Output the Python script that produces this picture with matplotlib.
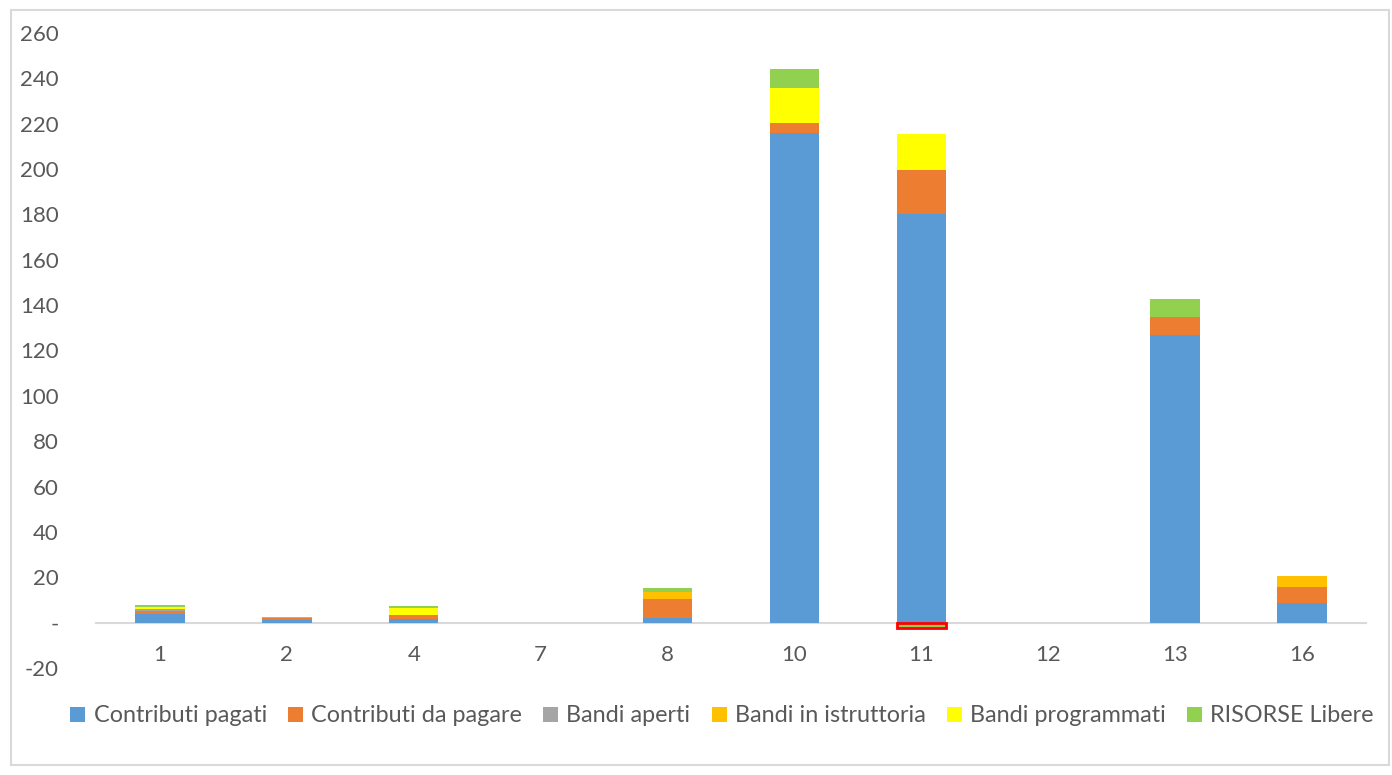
import matplotlib
matplotlib.use("Agg")
import matplotlib.pyplot as plt
from matplotlib.patches import Rectangle
from matplotlib.ticker import FuncFormatter, MultipleLocator
import numpy as np

categories = ['1', '2', '4', '7', '8', '10', '11', '12', '13', '16']
contributi_pagati = [3.7, 1.2, 1.8, 0, 1.9, 216, 180, 0, 127, 8.5]
contributi_da_pagare = [1.5, 0.7, 1.7, 0, 8.4, 4.2, 19.5, 0, 7.6, 7.1]
bandi_aperti = [0.8, 0, 0, 0, 0, 0, 0, 0, 0, 0]
bandi_istruttoria = [0, 0.3, 0, 0, 3.1, 0, 0, 0, 0, 5.0]
bandi_programmati = [0.7, 0, 3.1, 0, 0, 15.4, 16.0, 0, 0, 0]
risorse_libere = [1.1, 0.3, 0.7, 0, 1.7, 8.6, -2.2, 0, 8.3, 0]

series = [
    ("Contributi pagati", contributi_pagati, "#5B9BD5"),
    ("Contributi da pagare", contributi_da_pagare, "#ED7D31"),
    ("Bandi aperti", bandi_aperti, "#A5A5A5"),
    ("Bandi in istruttoria", bandi_istruttoria, "#FFC000"),
    ("Bandi programmati", bandi_programmati, "#FFFF00"),
    ("RISORSE Libere", risorse_libere, "#92D050"),
]

plt.rcParams['font.family'] = ['Lato', 'DejaVu Sans']
W, H = 1392, 775
fig = plt.figure(figsize=(W / 100, H / 100), dpi=100)
fig.patch.set_facecolor('white')
fig.patches.append(Rectangle((11 / W, 10 / H), (1389 - 11) / W, (765 - 10) / H,
                             transform=fig.transFigure, fill=False,
                             edgecolor='#D9D9D9', linewidth=1.5))

ax = fig.add_axes([96.5 / W, (H - 668) / H, (1365.5 - 96.5) / W, (668 - 33) / H])
x = np.arange(len(categories))
pos_bottom = np.zeros(len(categories))
neg_bottom = np.zeros(len(categories))
width = 0.39
handles = []
for name, vals, color in series:
    vals = np.array(vals, dtype=float)
    bottoms = np.where(vals >= 0, pos_bottom, neg_bottom)
    edges = ['#FF0000' if v < 0 else 'none' for v in vals]
    lws = [2.0 if v < 0 else 0 for v in vals]
    b = ax.bar(x, vals, width, bottom=bottoms, color=color, edgecolor=edges,
               linewidth=lws, label=name, zorder=3)
    handles.append(b)
    pos_bottom += np.where(vals >= 0, vals, 0)
    neg_bottom += np.where(vals < 0, vals, 0)

ax.set_xlim(-0.5, len(categories) - 0.5)
ax.set_ylim(-20, 260)
ax.yaxis.set_major_locator(MultipleLocator(20))
ax.yaxis.set_major_formatter(FuncFormatter(lambda v, p: '-' if abs(v) < 1e-9 else f'{int(round(v))}'))
ax.set_xticks(x)
ax.set_xticklabels(categories)

for s in ['top', 'right', 'left']:
    ax.spines[s].set_visible(False)
ax.spines['bottom'].set_position(('data', 0))
ax.spines['bottom'].set_color('#D9D9D9')
ax.spines['bottom'].set_linewidth(1.5)
ax.spines['bottom'].set_zorder(2)
ax.tick_params(axis='x', length=0, pad=16, labelsize=16, labelcolor='#595959')
ax.tick_params(axis='y', length=0, pad=27, labelsize=16, labelcolor='#595959')
for lbl in ax.get_yticklabels():
    lbl.set_horizontalalignment('right')

fig.legend(handles=handles, loc='center', bbox_to_anchor=(722 / W, (H - 716) / H),
           ncol=6, frameon=False, fontsize=16.8, labelcolor='#595959',
           handlelength=0.65, handleheight=0.65, handletextpad=0.35, columnspacing=0.9)

fig.savefig('out.png', dpi=100, facecolor='white')
